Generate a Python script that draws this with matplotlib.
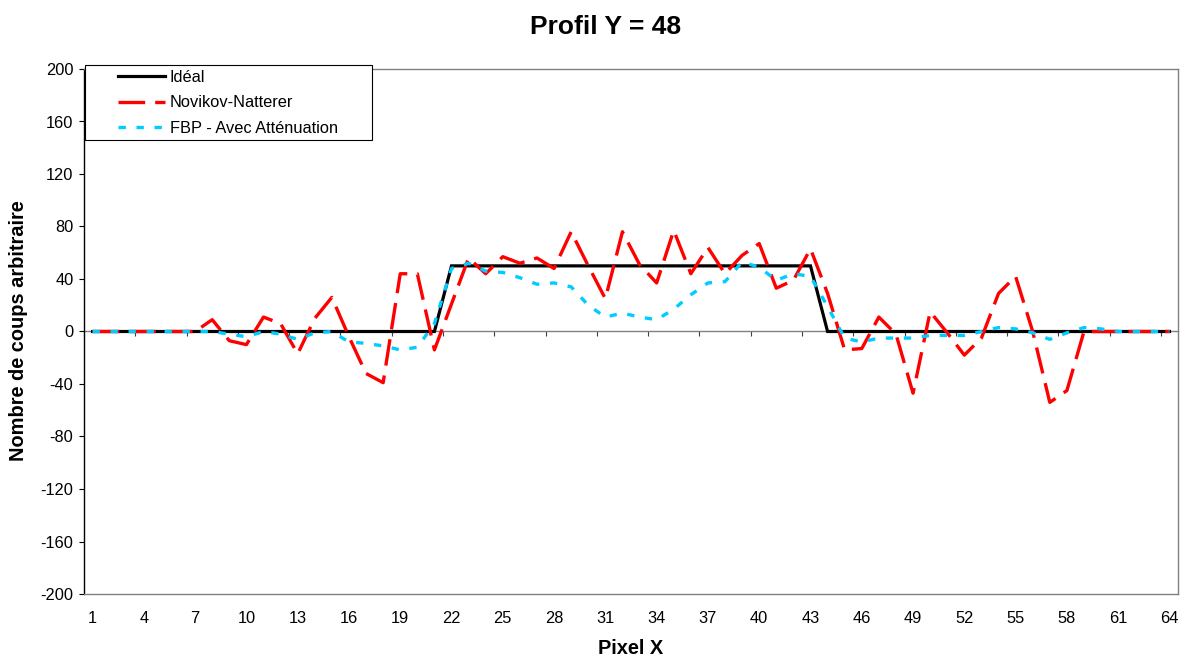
import numpy as np
import matplotlib
matplotlib.use("Agg")
import matplotlib.pyplot as plt
from matplotlib.patches import Rectangle

plt.rcParams['font.family'] = ['Liberation Sans', 'DejaVu Sans']
plt.rcParams['axes.unicode_minus'] = False

# Data
pixel_x = np.arange(1, 65)

ideal = [0, 0, 0, 0, 0, 0, 0, 0, 0, 0, 0, 0, 0, 0, 0, 0,
         0, 0, 0, 0, 0, 50, 50, 50, 50, 50, 50, 50, 50, 50, 50, 50,
         50, 50, 50, 50, 50, 50, 50, 50, 50, 50, 50, 0, 0, 0, 0, 0,
         0, 0, 0, 0, 0, 0, 0, 0, 0, 0, 0, 0, 0, 0, 0, 0]

novikov = [0, 0, 0, 0, 0, 0, 0, 9, -7, -10, 11, 6, -17, 10, 26, -4,
           -32, -39, 44, 44, -14, 21, 56, 44, 57, 52, 56, 48, 76, 50, 25, 76,
           51, 37, 77, 44, 64, 44, 58, 67, 33, 39, 63, 29, -14, -13, 11, -2,
           -47, 15, -1, -18, -5, 29, 42, 0, -54, -45, 0, 0, 0, 0, 0, 0]

fbp = [0, 0, 0, 0, 0, 0, 0, 0, -2, -4, 0, -2, -6, -1, 0, -8,
       -9, -11, -14, -12, 6, 48, 52, 46, 45, 41, 36, 37, 34, 20, 11, 14,
       11, 9, 17, 28, 37, 38, 53, 49, 39, 44, 42, 19, -5, -8, -5, -5,
       -5, -3, -3, -3, 0, 3, 2, -1, -6, -1, 3, 2, 0, 0, 0, 0]

x_labels = np.arange(1, 65, 3)
y_ticks = np.arange(-200, 201, 40)

W, H = 1182, 657
fig = plt.figure(figsize=(W / 100, H / 100), dpi=100)
ax = fig.add_axes([84 / W, 1 - 594 / H, (1178 - 84) / W, (594 - 69) / H])

l1, = ax.plot(pixel_x, ideal, color='black', lw=2.3, solid_joinstyle='miter',
              label='Idéal')
l2, = ax.plot(pixel_x, novikov, color='#FF0000', lw=2.4, linestyle=(0, (8, 3)),
              label='Novikov-Natterer')
l3, = ax.plot(pixel_x, fbp, color='#00CCFF', lw=2.4, linestyle=(0, (2.2, 3.2)),
              label='FBP - Avec Atténuation')

ax.set_xlim(0.5, 64.5)
ax.set_ylim(-200, 200)

# category labels at the bottom, no tick marks
ax.set_xticks(x_labels)
ax.set_xticklabels([str(v) for v in x_labels])
ax.tick_params(axis='x', length=0, pad=12, labelsize=11.8)
ax.set_yticks(y_ticks)
ax.tick_params(axis='y', direction='out', length=3.6, width=0.8, pad=4,
               labelsize=11.8)

for side in ['top', 'right', 'bottom']:
    ax.spines[side].set_color('#808080')
    ax.spines[side].set_linewidth(1.0)
ax.spines['left'].set_color('black')
ax.spines['left'].set_linewidth(1.0)

# category axis crossing at y = 0, with marks between categories
ymin, ymax = ax.get_ylim()
secax = ax.secondary_xaxis((0 - ymin) / (ymax - ymin))
secax.set_alignment('bottom')
secax.set_xticks(np.arange(0.5, 64, 3))
secax.tick_params(axis='x', direction='out', length=3.6, width=0.8,
                  labelbottom=False, labeltop=False, color='#404040')
for sp in secax.spines.values():
    sp.set_color('#808080')
    sp.set_linewidth(1.0)

# titles
fig.text(606 / W, 1 - 27 / H, 'Profil Y = 48', ha='center', va='center',
         fontsize=19, fontweight='bold')
fig.text(631 / W, 1 - 648 / H, 'Pixel X', ha='center', va='center',
         fontsize=14.4, fontweight='bold')
fig.text(19 / W, 1 - 331 / H, 'Nombre de coups arbitraire', ha='center',
         va='center', rotation=90, fontsize=14.4, fontweight='bold')

# legend box
box = Rectangle((85 / W, 1 - 140 / H), (372 - 85) / W, (140 - 65) / H,
                transform=fig.transFigure, facecolor='white', edgecolor='black',
                linewidth=0.8, zorder=4)
fig.patches.append(box)
leg = fig.legend(handles=[l1, l2, l3], loc='upper left',
                 bbox_to_anchor=(118 / W, 1 - 70 / H), borderpad=0,
                 borderaxespad=0, frameon=False, fontsize=11.8,
                 handlelength=2.87, handletextpad=0.3, labelspacing=0.64)
leg.set_zorder(5)

fig.savefig('out.png', dpi=100)
